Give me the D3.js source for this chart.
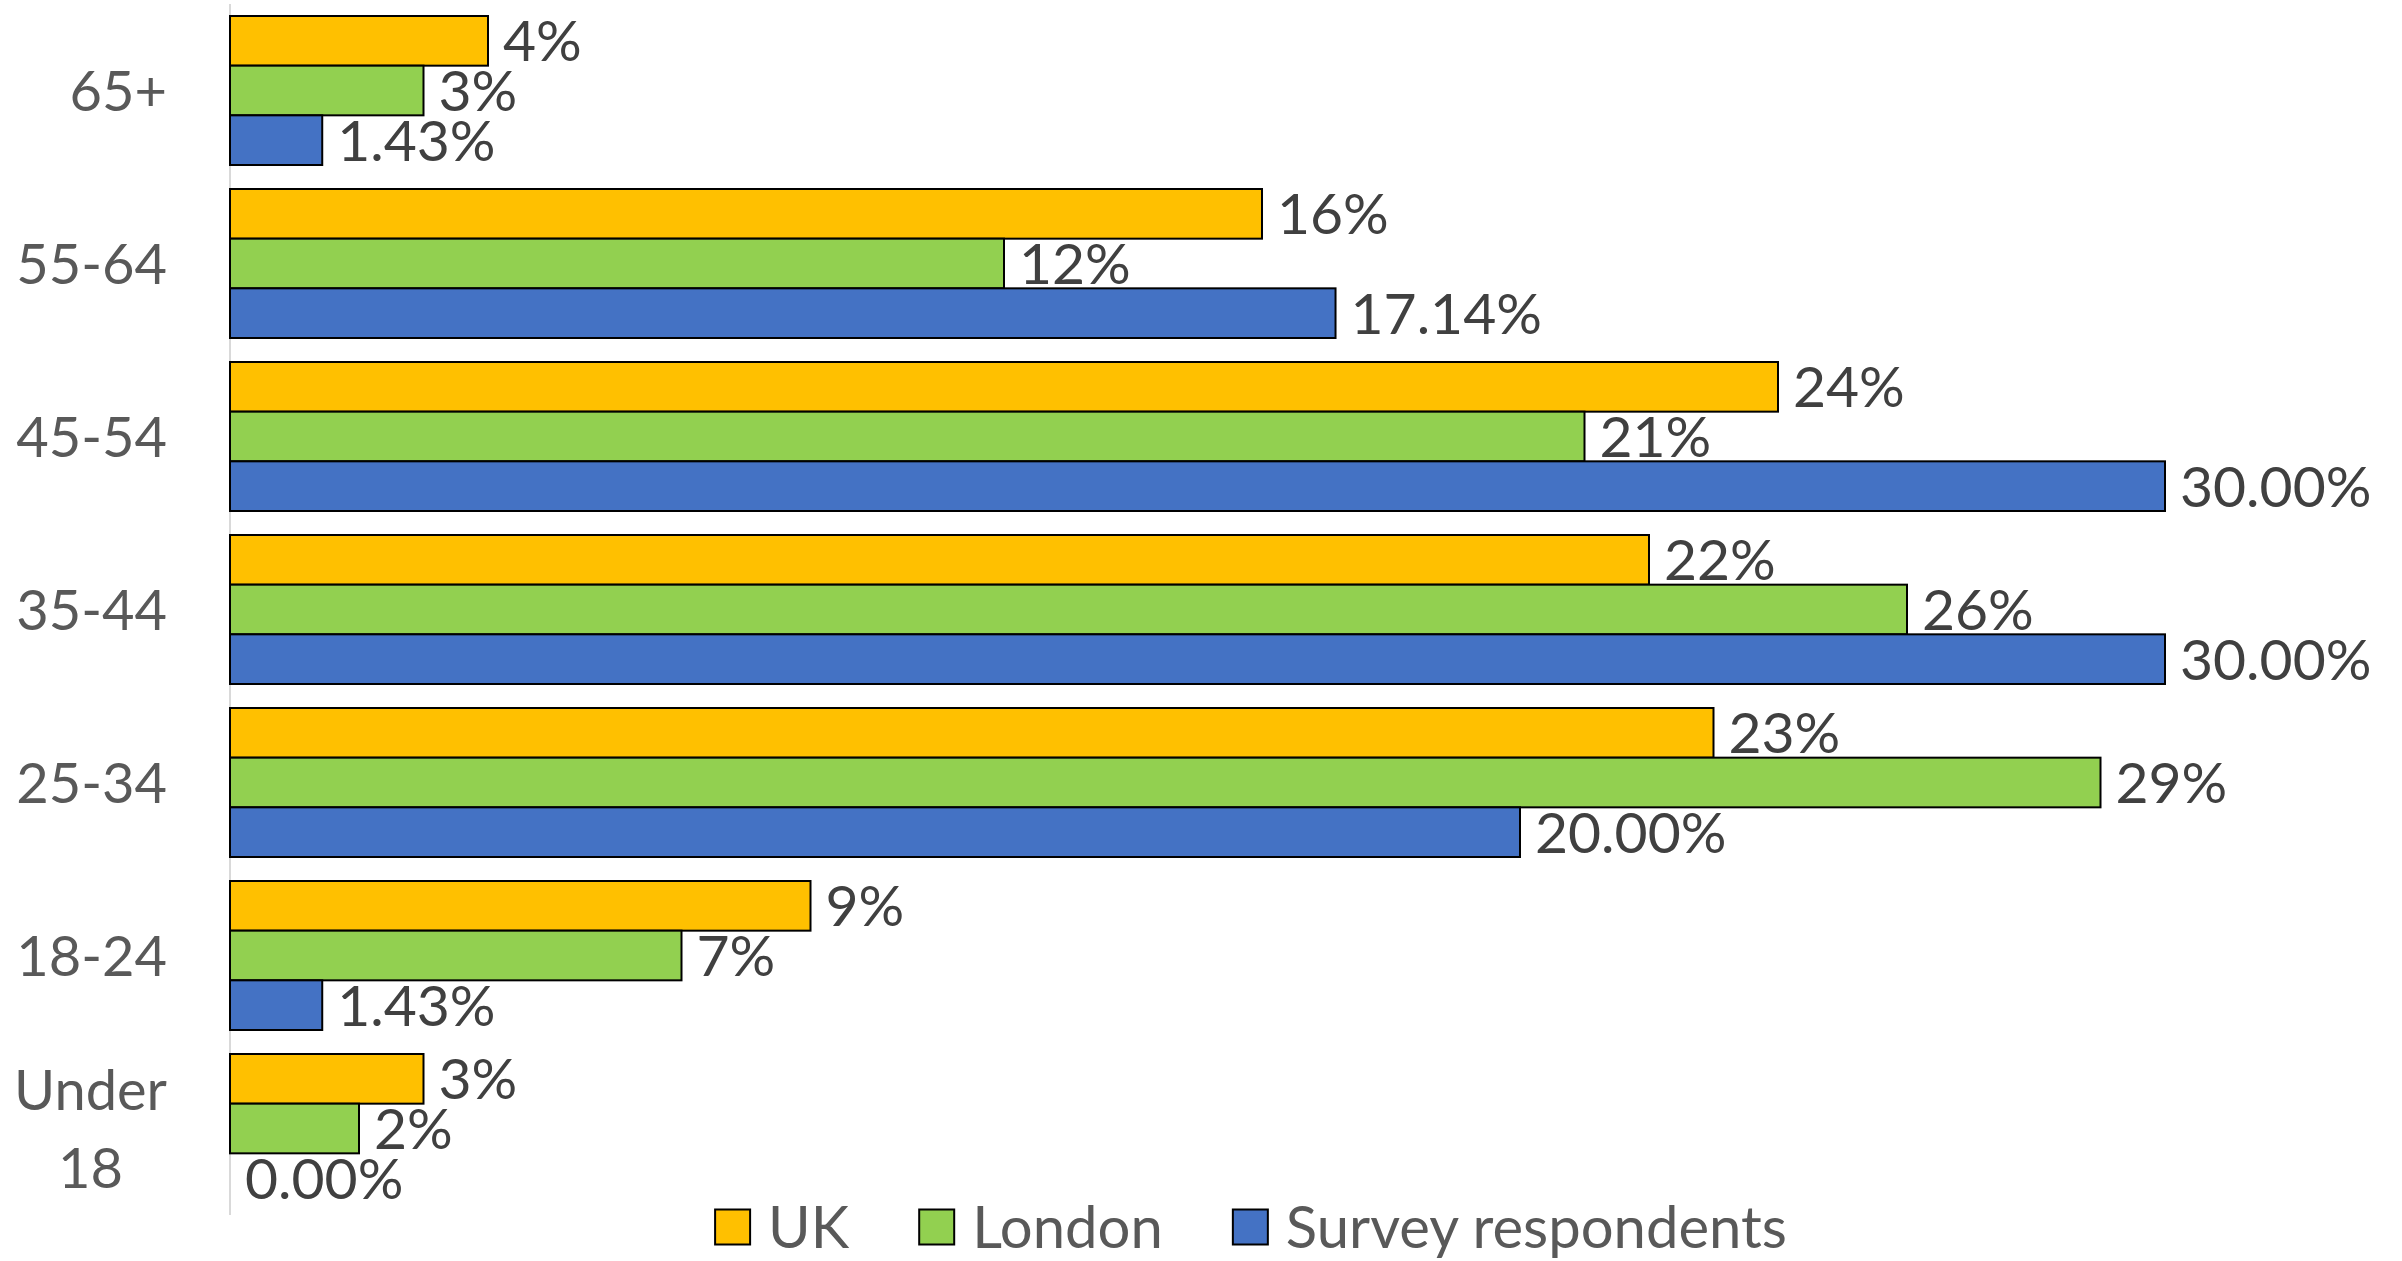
<!DOCTYPE html>
<html>
<head>
<meta charset="utf-8">
<script src="https://cdn.jsdelivr.net/npm/d3@7"></script>
<style>
  html, body { margin: 0; padding: 0; background: #fff; }
  svg { display: block; }
  text { font-family: Lato, "Open Sans", sans-serif; }
</style>
</head>
<body>
<script>
const categories = ["65+", "55-64", "45-54", "35-44", "25-34", "18-24", "Under 18"];
const seriesNames = ["UK", "London", "Survey respondents"];
const ukValues = [0.04, 0.16, 0.24, 0.22, 0.23, 0.09, 0.03];
const londonValues = [0.03, 0.12, 0.21, 0.26, 0.29, 0.07, 0.02];
const surveyValues = [0.0143, 0.1714, 0.30, 0.30, 0.20, 0.0143, 0.00];
const seriesColors = ["#FFC000", "#92D050", "#4472C4"];
const labelFormats = [".0%", ".0%", ".2%"];

const W = 2402, H = 1261;
const LABEL_FONT = 57, CAT_FONT = 56, LEG_FONT = 58;
const svg = d3.select("body").append("svg").attr("width", W).attr("height", H);

const seriesValues = [ukValues, londonValues, surveyValues];
const rows = categories.map((c, i) => ({
  cat: c,
  vals: seriesNames.map((s, j) => ({ s, j, v: seriesValues[j][i] }))
}));

const x = d3.scaleLinear().domain([0, 0.30]).range([230, 2165]);
const y = d3.scaleBand().domain(categories).range([4, 1215])
  .paddingInner(24 / 173).paddingOuter(12 / 173);
const ys = d3.scaleBand().domain(seriesNames).range([0, y.bandwidth()]);
const color = d3.scaleOrdinal().domain(seriesNames).range(seriesColors);

// axis line
svg.append("line")
  .attr("x1", x(0)).attr("x2", x(0))
  .attr("y1", y.range()[0]).attr("y2", y.range()[1])
  .attr("stroke", "#D9D9D9").attr("stroke-width", 2);

const groups = svg.append("g").selectAll("g").data(rows).join("g")
  .attr("transform", d => `translate(0,${y(d.cat)})`);

groups.selectAll("rect").data(d => d.vals.filter(e => e.v > 0)).join("rect")
  .attr("x", x(0))
  .attr("y", d => ys(d.s))
  .attr("width", d => x(d.v) - x(0))
  .attr("height", ys.bandwidth())
  .attr("fill", d => color(d.s))
  .attr("stroke", "#000").attr("stroke-width", 2);

groups.selectAll("text").data(d => d.vals).join("text")
  .attr("x", d => x(d.v) + 15)
  .attr("y", d => ys(d.s) + ys.bandwidth() / 2)
  .attr("dy", "0.36em")
  .attr("font-size", LABEL_FONT)
  .attr("fill", "#404040")
  .text(d => d3.format(labelFormats[d.j])(d.v));

// category labels
const catRight = 167;
const maxLabelW = 165;
const catG = svg.append("g");
categories.forEach(c => {
  const cy = y(c) + y.bandwidth() / 2;
  const t = catG.append("text").attr("font-size", CAT_FONT).attr("fill", "#595959")
    .attr("text-anchor", "end").attr("x", catRight).attr("y", cy).attr("dy", "0.36em").text(c);
  if (t.node().getComputedTextLength() > maxLabelW && c.includes(" ")) {
    const lines = c.split(" ");
    const widths = lines.map(l => { t.text(l); return t.node().getComputedTextLength(); });
    t.text("");
    const maxW = d3.max(widths);
    const lh = 78;
    t.attr("text-anchor", "middle").attr("x", catRight - maxW / 2).attr("dy", null);
    lines.forEach((l, k) => {
      t.append("tspan").attr("x", catRight - maxW / 2)
        .attr("y", cy + (k - (lines.length - 1) / 2) * lh)
        .attr("dy", "0.36em").text(l);
    });
  }
});

// legend
const legend = svg.append("g");
const sq = 35, sqGap = 18, itemGap = 70, legY = 1227;
const items = seriesNames.map(s => {
  const g = legend.append("g");
  g.append("rect").attr("width", sq).attr("height", sq).attr("y", legY - sq / 2)
    .attr("fill", color(s)).attr("stroke", "#000").attr("stroke-width", 2);
  const t = g.append("text").attr("x", sq + sqGap).attr("y", legY).attr("dy", "0.36em")
    .attr("font-size", LEG_FONT).attr("fill", "#595959").text(s);
  return { g, w: sq + sqGap + t.node().getComputedTextLength() };
});
const total = d3.sum(items, d => d.w) + itemGap * (items.length - 1);
let lx = 1251 - total / 2;
items.forEach(it => { it.g.attr("transform", `translate(${lx},0)`); lx += it.w + itemGap; });
</script>
</body>
</html>
